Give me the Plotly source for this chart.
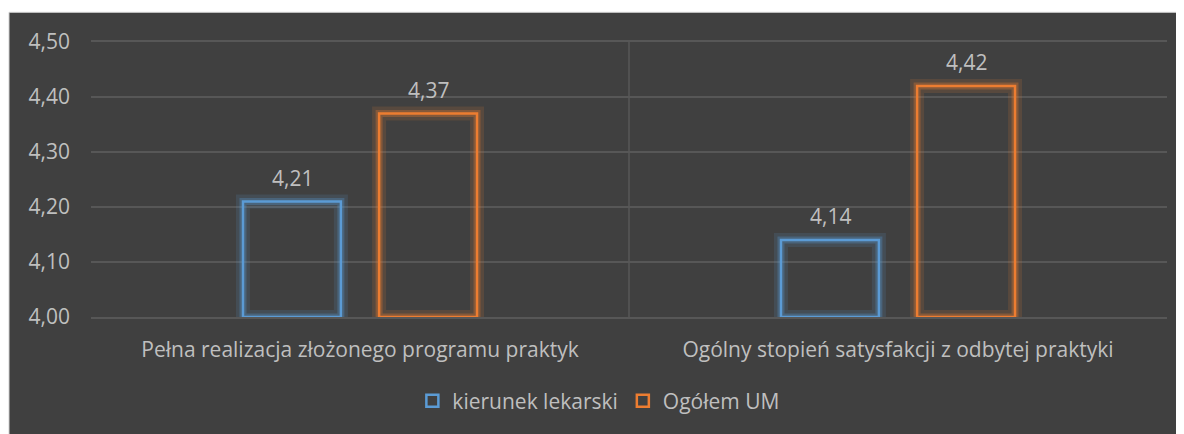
import plotly.graph_objects as go

categories = ["Pełna realizacja złożonego programu praktyk",
              "Ogólny stopień satysfakcji z odbytej praktyki"]
series_names = ["kierunek lekarski", "Ogółem UM"]
kierunek = [4.21, 4.14]
ogolem = [4.37, 4.42]
y_ticks = [4.0, 4.1, 4.2, 4.3, 4.4, 4.5]
BASE = 4.0

colors = ["#5B9BD5", "#ED7D31"]
glow_wide = ["rgba(91,155,213,0.14)", "rgba(237,125,49,0.14)"]
glow_mid = ["rgba(91,155,213,0.30)", "rgba(237,125,49,0.30)"]
BW = 0.182
offsets = [-0.2175, 0.0355]
xshifts = [-68, 68]

FONT = "Open Sans"
TXT = "#BFBFBF"
FS = 21

fig = go.Figure()
series = [kierunek, ogolem]
for glow, w in [(glow_wide, 14), (glow_mid, 7)]:
    for vals, g, off in zip(series, glow, offsets):
        fig.add_trace(go.Bar(
            x=categories, y=[v - BASE for v in vals], base=BASE, width=BW, offset=off,
            marker=dict(color="rgba(0,0,0,0)", line=dict(color=g, width=w)),
            showlegend=False, hoverinfo="skip"))
for vals, name, col, off in zip(series, series_names, colors, offsets):
    fig.add_trace(go.Bar(
        x=categories, y=[v - BASE for v in vals], base=BASE, width=BW, offset=off,
        name=name,
        marker=dict(color="rgba(0,0,0,0)", line=dict(color=col, width=2.5))))

annotations = []
for vals, xs in zip(series, xshifts):
    for c, v in zip(categories, vals):
        annotations.append(dict(
            x=c, y=v, xref="x", yref="y", xshift=xs, yshift=24,
            text=f"{v:.2f}".replace(".", ","), showarrow=False,
            font=dict(family=FONT, size=FS, color=TXT), yanchor="middle"))

fig.update_layout(
    width=1176, height=426,
    barmode="overlay",
    margin=dict(l=83, r=17, t=34, b=112),
    paper_bgcolor="white",
    plot_bgcolor="rgba(0,0,0,0)",
    font=dict(family=FONT, size=FS, color=TXT),
    separators=", ",
    showlegend=True,
    annotations=annotations,
    legend=dict(orientation="h", x=0.472, xanchor="center", y=-0.306, yanchor="middle",
                font=dict(size=FS, color=TXT), bgcolor="rgba(0,0,0,0)",
                traceorder="normal", itemwidth=30),
    shapes=[
        dict(type="rect", xref="paper", yref="paper", x0=-0.0762, x1=1.03, y0=-0.5, y1=1.1079,
             fillcolor="#404040", line=dict(color="#D0D0D0", width=1), layer="below"),
        dict(type="line", xref="x", yref="paper", x0=0.5, x1=0.5, y0=0, y1=1,
             line=dict(color="#575757", width=1.5), layer="below"),
    ],
)
fig.update_xaxes(
    range=[-0.5, 1.5], showgrid=False, showline=True, mirror=True,
    linecolor="#575757", linewidth=1.5, zeroline=False,
    ticks="", ticklabelstandoff=13, tickfont=dict(size=FS, color=TXT))
fig.update_yaxes(
    range=[4.0, 4.5], tickvals=y_ticks, ticktext=[f"{t:.2f}".replace(".", ",") for t in y_ticks],
    showgrid=True, gridcolor="#575757", gridwidth=1.5, zeroline=False,
    showline=False, ticks="", ticklabelstandoff=20,
    tickfont=dict(size=FS, color=TXT))

fig.write_html("out.html")
